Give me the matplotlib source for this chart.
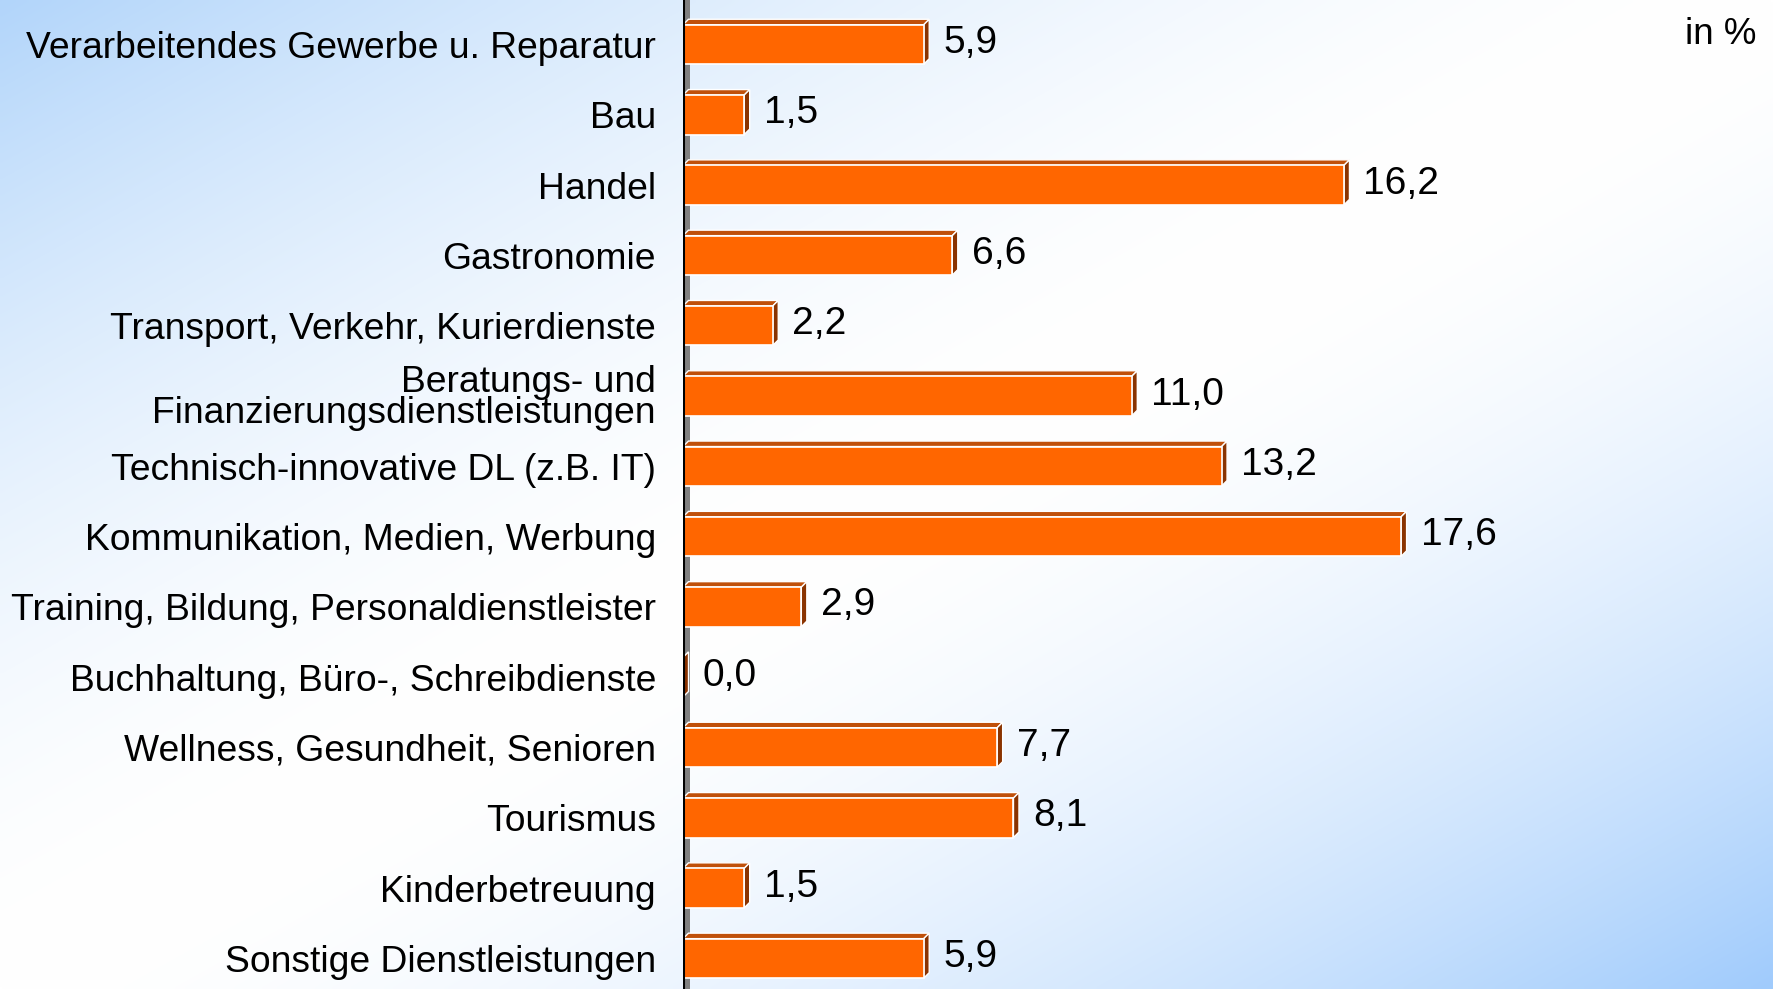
import numpy as np
import matplotlib
matplotlib.use("Agg")
import matplotlib.pyplot as plt
import matplotlib.transforms as mtransforms
from matplotlib.patches import Polygon, Rectangle

categories = [
    "Verarbeitendes Gewerbe u. Reparatur",
    "Bau",
    "Handel",
    "Gastronomie",
    "Transport, Verkehr, Kurierdienste",
    "Beratungs- und\nFinanzierungsdienstleistungen",
    "Technisch-innovative DL (z.B. IT)",
    "Kommunikation, Medien, Werbung",
    "Training, Bildung, Personaldienstleister",
    "Buchhaltung, Büro-, Schreibdienste",
    "Wellness, Gesundheit, Senioren",
    "Tourismus",
    "Kinderbetreuung",
    "Sonstige Dienstleistungen",
]
values = [5.9, 1.5, 16.2, 6.6, 2.2, 11.0, 13.2, 17.6, 2.9, 0.0, 7.7, 8.1, 1.5, 5.9]
unit_label = "in %"

plt.rcParams['font.family'] = ['Liberation Sans', 'DejaVu Sans']

W, H = 1773, 989
fig = plt.figure(figsize=(W / 100, H / 100), dpi=100)

# background gradient
bg = fig.add_axes([0, 0, 1, 1], zorder=0)
xx, yy = np.meshgrid(np.linspace(0, 1, 400), np.linspace(0, 1, 240))
d = xx + yy - 1
white = np.array([1.0, 1.0, 1.0])
blue_tl = np.array([178, 213, 250]) / 255
blue_br = np.array([160, 203, 252]) / 255
w = np.clip(np.abs(d), 0, 1) ** 1.7
img = np.where((d < 0)[..., None], blue_tl, blue_br)
img = white * (1 - w[..., None]) + img * w[..., None]
bg.imshow(img, aspect='auto', extent=[0, 1, 1, 0], interpolation='bilinear')
bg.set_xlim(0, 1); bg.set_ylim(1, 0)
bg.axis('off')

# main axes
px_per_unit_x = 40.8
pitch = 70.3
left_px = 683
ax = fig.add_axes([left_px / W, 0, 1 - left_px / W, 1], zorder=1)
ax.patch.set_alpha(0)
ax.set_xlim(0, (W - left_px) / px_per_unit_x)
top = -44.5 / pitch
bottom = (H - 44.5) / pitch
ax.set_ylim(bottom, top)

dx = 5.5 / px_per_unit_x
dy = 5.5 / pitch
h = 39.5 / pitch

# grey wall
ax.add_patch(Rectangle((0, top), dx * 1.2, bottom - top, facecolor='#808080',
                       edgecolor='none', zorder=1))

front_c = '#ff6600'
top_c = '#c0500a'
side_c = '#8a3300'
for i, v in enumerate(values):
    y0 = i - h / 2
    y1 = i + h / 2
    # top face
    ax.add_patch(Polygon([(0, y0), (v, y0), (v + dx, y0 - dy), (dx, y0 - dy)],
                         closed=True, facecolor=top_c, edgecolor='white', lw=1.0, zorder=2))
    # side face
    ax.add_patch(Polygon([(v, y0), (v + dx, y0 - dy), (v + dx, y1 - dy), (v, y1)],
                         closed=True, facecolor=side_c, edgecolor='white', lw=1.0, zorder=2))
    # front face
    if v > 0:
        ax.add_patch(Rectangle((0, y0), v, h, facecolor=front_c, edgecolor='white',
                               lw=1.2, zorder=3))
    ax.text(v + dx + 14 / px_per_unit_x, i - 1.5 / pitch, f"{v:.1f}".replace('.', ','),
            ha='left', va='center', fontsize=28, color='black', zorder=5)

ax.axvline(0, color='black', lw=2.2, zorder=4)

ax.set_yticks(range(len(categories)))
ax.set_yticklabels(categories, fontsize=26.8)
shift = mtransforms.ScaledTranslation(0, 2.0 / 100, fig.dpi_scale_trans)
for t in ax.get_yticklabels():
    t.set_linespacing(0.86)
    t.set_transform(t.get_transform() + shift)
ax.tick_params(axis='y', length=0, pad=19.5)
ax.set_xticks([])
for s in ax.spines.values():
    s.set_visible(False)

fig.text(1756 / W, 1 - 34 / H, unit_label, ha='right', va='center', fontsize=26.5)

fig.savefig('out.png', dpi=100)
